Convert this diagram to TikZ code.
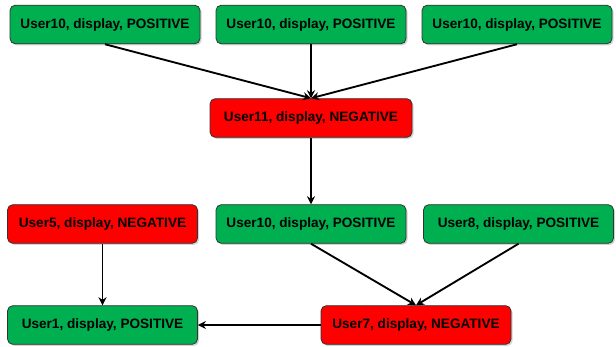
\documentclass[tikz,border=0pt]{standalone}
\usepackage{fontspec}
\setmainfont{Liberation Sans}
\usetikzlibrary{arrows.meta, shadows}

\definecolor{posgreen}{HTML}{00B050}
\definecolor{negred}{HTML}{FF0000}

\begin{document}
\begin{tikzpicture}[
        x=0.75pt, y=-0.75pt,
        event/.style={
            rectangle, 
            rounded corners=4pt, 
            minimum width=142.5pt, 
            minimum height=29pt, 
            text centered, 
            draw=black!80,
            line width=0.6pt,
            font=\bfseries\fontsize{10.2}{12}\selectfont,
            drop shadow={shadow xshift=1.2pt, shadow yshift=-1.2pt, opacity=0.35}
        },
        posbox/.style={event, fill=posgreen},
        negbox/.style={event, fill=negred},
        arrow/.style={
            line width=1.4pt, 
            -{Stealth[length=6pt, width=6pt]}
        }
    ]
    \useasboundingbox (0,0) rectangle (616,346);
    
    % Nodes
    \node (u10a) [posbox] at (105,24.5) {User10, display, POSITIVE};
    \node (u10b) [posbox] at (311,24.5) {User10, display, POSITIVE};
    \node (u10c) [posbox] at (517,24.5) {User10, display, POSITIVE};
    \node (u11) [negbox, minimum width=151.5pt] at (311,118) {User11, display, NEGATIVE};
    \node (u5) [negbox] at (102.5,224) {User5, display, NEGATIVE};
    \node (u10d) [posbox] at (311,224) {User10, display, POSITIVE};
    \node (u8) [posbox] at (518.5,224) {User8, display, POSITIVE};
    \node (u1) [posbox] at (102.5,325) {User1, display, POSITIVE};
    \node (u7) [negbox] at (416,325) {User7, display, NEGATIVE};
    
    % Arrows
    \draw [arrow] (u10a.south) -- (u11.north);
    \draw [arrow] (u10b.south) -- (u11.north);
    \draw [arrow] (u10c.south) -- (u11.north);
    \draw [arrow] (u11) -- (u10d);
    \draw [arrow] (u10d.south) -- (u7.north);
    \draw [arrow] (u8.south) -- (u7.north);
    \draw [arrow] (u5) -- (u1);
    \draw [arrow] (u7) -- (u1);
    
\end{tikzpicture}
\end{document}
